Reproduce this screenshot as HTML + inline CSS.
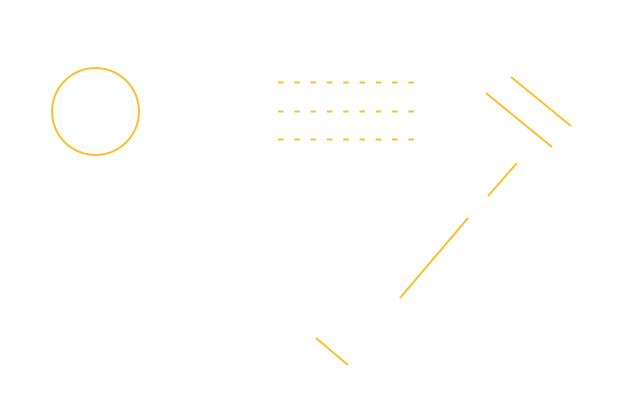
<!DOCTYPE html>
<html><head><style>html,body{margin:0;padding:0;background:#fff;}svg{display:block}</style></head>
<body>
<svg width="640" height="414" viewBox="0 0 640 414" xmlns="http://www.w3.org/2000/svg">
<g stroke="#FBC02D" stroke-width="2" fill="none">
<circle cx="95.5" cy="111.5" r="43.5"/>
<g stroke-dasharray="5.5 10.8">
<line x1="278" y1="82.5" x2="416" y2="82.5"/>
<line x1="278" y1="111.5" x2="416" y2="111.5"/>
<line x1="278" y1="139.5" x2="416" y2="139.5"/>
</g>
<line x1="511" y1="77" x2="571" y2="126"/>
<line x1="486" y1="93" x2="552" y2="147"/>
<line x1="517" y1="163" x2="488" y2="196"/>
<line x1="468" y1="218" x2="400" y2="298"/>
<line x1="316" y1="338" x2="348" y2="365"/>
</g>
</svg>
</body></html>
